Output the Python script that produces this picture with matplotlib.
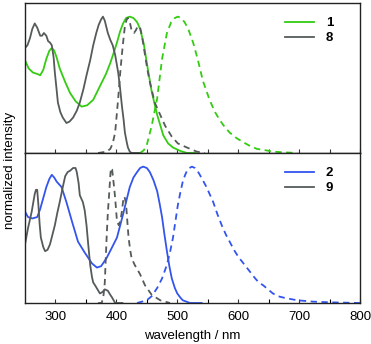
import numpy as np
import matplotlib.pyplot as plt

plt.rcParams['font.family'] = ['Liberation Sans', 'DejaVu Sans']

GREEN = '#33cc11'
GRAY = '#555a5a'
BLUE = '#3355ee'

# top panel: compound 1 and 8
abs1_wl = [250, 256, 263, 270, 275, 280, 285, 290, 294, 298, 302, 307, 316, 324, 333, 343, 352, 362, 373,
           383, 390, 396, 401, 406, 411, 416, 422, 428, 434, 439, 445, 450, 458, 467, 477, 485, 493, 505,
           516, 530]
abs1_y = [0.68, 0.62, 0.59, 0.58, 0.57, 0.61, 0.69, 0.75, 0.77, 0.75, 0.70, 0.62, 0.52, 0.44, 0.38, 0.34,
          0.35, 0.39, 0.49, 0.58, 0.66, 0.74, 0.81, 0.89, 0.95, 0.99, 1.0, 0.99, 0.96, 0.91, 0.80, 0.66,
          0.45, 0.28, 0.13, 0.07, 0.04, 0.015, 0.0, 0.0]
em1_wl = [439, 445, 450, 458, 467, 475, 483, 490, 496, 501, 506, 512, 518, 526, 534, 542, 553, 562, 570,
          578, 586, 597, 608, 620, 631, 645, 657, 675, 697]
em1_y = [0.0, 0.02, 0.06, 0.2, 0.4, 0.69, 0.88, 0.96, 0.99, 1.0, 0.99, 0.96, 0.91, 0.81, 0.68, 0.53, 0.39,
         0.3, 0.24, 0.19, 0.15, 0.11, 0.08, 0.05, 0.03, 0.02, 0.01, 0.005, 0.0]
abs8_wl = [250, 254, 258, 262, 266, 270, 275, 278, 281, 285, 288, 291, 294, 297, 299, 302, 304, 308, 312,
           318, 323, 329, 335, 340, 346, 351, 357, 362, 367, 371, 375, 378, 381, 386, 390, 394, 398,
           403, 406, 409, 412, 414, 417, 419, 422, 425, 440]
abs8_y = [0.77, 0.79, 0.84, 0.91, 0.95, 0.92, 0.86, 0.86, 0.88, 0.86, 0.82, 0.81, 0.79, 0.70, 0.59, 0.46,
          0.37, 0.30, 0.26, 0.22, 0.23, 0.26, 0.31, 0.37, 0.47, 0.57, 0.68, 0.79, 0.88, 0.94, 0.98, 1.0,
          0.97, 0.88, 0.83, 0.79, 0.72, 0.59, 0.48, 0.35, 0.24, 0.15, 0.08, 0.04, 0.01, 0.0, 0.0]
em8_wl = [370, 384, 390, 394, 398, 403, 406, 409, 412, 414, 417, 419, 422, 425, 429, 432, 435, 439, 442,
          447, 451, 455, 463, 472, 480, 491, 501, 516, 532, 545]
em8_y = [0.0, 0.01, 0.03, 0.07, 0.15, 0.4, 0.57, 0.72, 0.85, 0.93, 0.98, 0.99, 0.96, 0.9, 0.88, 0.9, 0.93,
         0.92, 0.86, 0.72, 0.61, 0.52, 0.37, 0.28, 0.2, 0.12, 0.07, 0.04, 0.01, 0.0]

# bottom panel: compound 2 and 9
abs2_wl = [250, 255, 262, 270, 275, 280, 285, 290, 294, 298, 302, 310, 318, 327, 337, 348, 360, 368, 375,
           384, 392, 401, 411, 417, 422, 428, 434, 439, 444, 450, 455, 461, 467, 471, 475, 479, 483, 487,
           491, 496, 500, 505, 509, 515, 521, 540]
abs2_y = [0.67, 0.63, 0.62, 0.63, 0.69, 0.77, 0.85, 0.91, 0.94, 0.92, 0.89, 0.85, 0.74, 0.6, 0.45, 0.37,
          0.29, 0.26, 0.27, 0.33, 0.4, 0.48, 0.65, 0.76, 0.85, 0.92, 0.96, 0.99, 1.0, 0.99, 0.96, 0.9,
          0.82, 0.73, 0.63, 0.50, 0.38, 0.27, 0.18, 0.11, 0.07, 0.04, 0.02, 0.01, 0.0, 0.0]
em2_wl = [434, 442, 450, 458, 467, 475, 483, 488, 493, 497, 501, 505, 509, 513, 516, 520, 524, 529, 533,
          537, 542, 548, 553, 559, 566, 573, 580, 586, 593, 600, 607, 614, 621, 628, 634, 641, 649, 657,
          665, 674, 685, 697, 710, 723, 751, 800]
em2_y = [0.0, 0.01, 0.02, 0.05, 0.11, 0.18, 0.28, 0.37, 0.48, 0.60, 0.72, 0.81, 0.89, 0.94, 0.97, 0.99,
         1.0, 0.99, 0.97, 0.94, 0.90, 0.85, 0.80, 0.74, 0.65, 0.57, 0.50, 0.45, 0.39, 0.34, 0.30, 0.26,
         0.22, 0.18, 0.15, 0.13, 0.10, 0.07, 0.05, 0.04, 0.03, 0.02, 0.015, 0.01, 0.005, 0.0]
abs9_wl = [250, 255, 261, 266, 268, 270, 272, 274, 276, 280, 283, 287, 291, 295, 299, 303, 307, 312, 316,
           320, 324, 329, 333, 335, 338, 340, 345, 348, 351, 354, 357, 360, 362, 365, 369, 373, 377, 381,
           386, 390, 393, 398, 410]
abs9_y = [0.43, 0.55, 0.67, 0.80, 0.83, 0.83, 0.72, 0.58, 0.48, 0.41, 0.38, 0.39, 0.43, 0.50, 0.57, 0.66,
          0.74, 0.85, 0.93, 0.96, 0.97, 0.99, 0.99, 0.96, 0.88, 0.79, 0.74, 0.68, 0.57, 0.42, 0.28, 0.19,
          0.15, 0.13, 0.10, 0.07, 0.08, 0.10, 0.09, 0.06, 0.04, 0.0, 0.0]
em9_wl = [370, 376, 379, 381, 384, 386, 388, 390, 391, 393, 394, 396, 398, 401, 404, 407, 409, 412, 414,
          416, 418, 420, 423, 425, 430, 434, 439, 447, 458, 472, 488]
em9_y = [0.0, 0.0, 0.06, 0.15, 0.48, 0.66, 0.79, 0.93, 0.99, 0.98, 0.94, 0.86, 0.77, 0.6, 0.57, 0.61, 0.67,
         0.78, 0.77, 0.72, 0.60, 0.48, 0.38, 0.33, 0.28, 0.25, 0.21, 0.13, 0.06, 0.02, 0.0]

xticks = [300, 400, 500, 600, 700, 800]

fig = plt.figure(figsize=(3.71, 3.44), dpi=100)
W, H = 371, 344
left, right = 25 / W, 360 / W
ax1 = fig.add_axes([left, 1 - 153 / H, right - left, 150 / H])
ax2 = fig.add_axes([left, 1 - 303 / H, right - left, 150 / H])

lw = 1.3
dash = (0, (3.5, 2.5))
ax1.plot(abs1_wl, abs1_y, color=GREEN, lw=lw, label='1')
ax1.plot(abs8_wl, abs8_y, color=GRAY, lw=lw, label='8')
ax1.plot(em1_wl, em1_y, color=GREEN, lw=lw, ls=dash)
ax1.plot(em8_wl, em8_y, color=GRAY, lw=lw, ls=dash)

ax2.plot(abs2_wl, abs2_y, color=BLUE, lw=lw, label='2')
ax2.plot(abs9_wl, abs9_y, color=GRAY, lw=lw, label='9')
ax2.plot(em2_wl, em2_y, color=BLUE, lw=lw, ls=dash)
ax2.plot(em9_wl, em9_y, color=GRAY, lw=lw, ls=dash)

for ax in (ax1, ax2):
    ax.set_xlim(250, 800)
    ax.set_ylim(0, 1.1)
    ax.set_yticks([])
    ax.set_xticks(np.arange(300, 801, 50))
    ax.tick_params(axis='x', direction='in', length=3, width=0.8, color='#333333')
    for s in ax.spines.values():
        s.set_linewidth(1.0)
        s.set_color('#222222')
    ax.legend(loc='upper right', bbox_to_anchor=(0.955, 0.985), frameon=False,
              handlelength=2.2, handletextpad=0.9, labelspacing=0.2,
              prop={'weight': 'bold', 'size': 9.5})

ax1.set_xticklabels([])
ax2.set_xticks(xticks)
ax2.set_xticks(np.arange(350, 801, 100), minor=True)
ax2.tick_params(axis='x', which='both', direction='in', length=3, width=0.8,
                labelsize=9.5, pad=6)
ax2.set_xlabel('wavelength / nm', fontsize=9.5, labelpad=5)

fig.text(10 / W, 1 - 170 / H, 'normalized intensity', rotation=90, fontsize=9.5,
         ha='center', va='center')

fig.savefig('out.png', dpi=100)
